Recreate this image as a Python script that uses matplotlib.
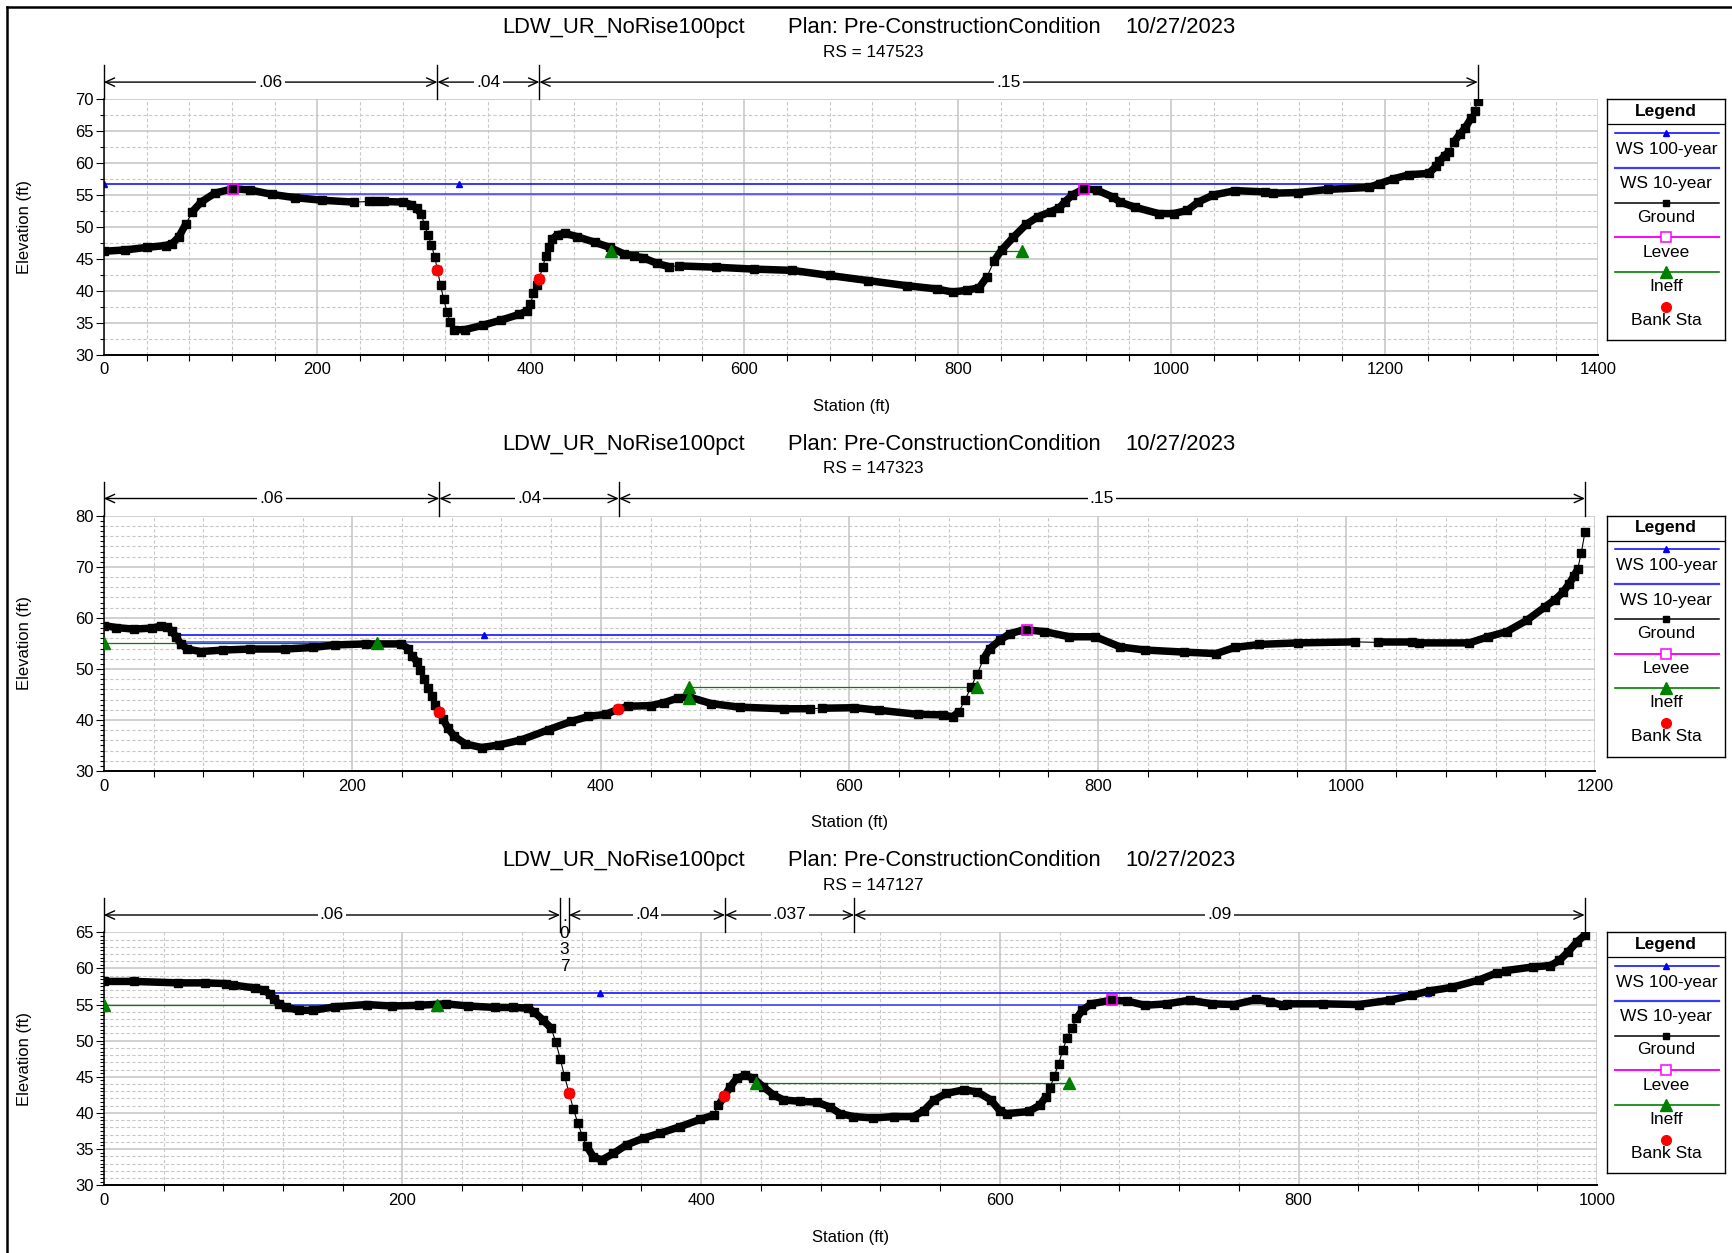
"""
HEC-RAS style cross section plots, three river stations of the
LDW_UR_NoRise100pct plan (Pre-Construction condition)
"""

import numpy as np
import matplotlib
matplotlib.use("Agg")
import matplotlib.pyplot as plt
from matplotlib.ticker import MultipleLocator
from matplotlib.transforms import blended_transform_factory

plt.rcParams['font.family'] = ['Liberation Sans', 'DejaVu Sans']

W, H = 1732, 1253
nan = np.nan

plan_name = "LDW_UR_NoRise100pct"
plan_text = "Plan: Pre-ConstructionCondition"
plan_date = "10/27/2023"
legend_names = ["WS 100-year", "WS 10-year", "Ground", "Levee", "Ineff", "Bank Sta"]

# ---------------- RS 147523 ----------------
rs1 = "RS = 147523"
rs1_ground_st = [0, 20, 40, 58, 64, 70, 77, 83, 91, 104, 121, 137, 158, 179, 204, 234,
                 248.5, 255, 262, 280, 288, 293, 297.5, 300.4, 303.6, 306.8, 310, 312.5,
                 315.4, 318.3, 321.5, 324.4, 328, 338, 355, 372, 389, 396, 399.6, 402.5,
                 405.5, 408, 411, 414, 417, 420, 425, 432, 443, 460, 474, 487, 497, 505,
                 518, 529, 539, 573, 609, 645, 680, 716, 752, 780, 795, 809, 820, 827,
                 834, 841, 852, 864, 875, 887, 895, 900, 907, 918, 930, 945, 952, 966,
                 988, 1002, 1015, 1025, 1039, 1060, 1088, 1095, 1119, 1147, 1185, 1195,
                 1209, 1223, 1241, 1248, 1251, 1256, 1260, 1265, 1270, 1275, 1281, 1284, 1287]
rs1_ground_el = [46.2, 46.4, 46.8, 47.1, 47.4, 48.4, 50.5, 52.4, 53.9, 55.3, 56.0, 55.8,
                 55.1, 54.6, 54.2, 53.9, 54.0, 54.0, 54.0, 53.9, 53.5, 52.9, 52.0, 50.3,
                 48.8, 47.2, 45.3, 43.3, 40.9, 38.7, 36.7, 35.1, 33.9, 33.9, 34.6, 35.4,
                 36.3, 36.8, 37.9, 39.6, 40.9, 41.9, 43.7, 45.4, 46.8, 48.1, 48.8, 49.0,
                 48.5, 47.6, 46.8, 45.8, 45.4, 45.2, 44.3, 43.8, 43.9, 43.7, 43.4, 43.2,
                 42.4, 41.6, 40.8, 40.3, 39.8, 40.1, 40.5, 42.1, 44.7, 46.4, 48.4, 50.4,
                 51.6, 52.4, 53.0, 53.9, 55.0, 56.0, 55.8, 54.7, 53.9, 53.1, 52.1, 52.1,
                 52.6, 53.9, 55.0, 55.7, 55.5, 55.3, 55.4, 55.9, 56.2, 56.8, 57.6, 58.2,
                 58.4, 59.5, 60.3, 61.2, 61.8, 63.4, 64.5, 65.5, 67.1, 68.2, 69.8]
rs1_sparse = [234, 255, 529, 1088]
rs1_ws100_st = [0, 333, 1195]
rs1_ws100_el = [56.7, 56.7, 56.7]
rs1_ws10_st = [160, 905]
rs1_ws10_el = [55.1, 55.1]
rs1_levee_st = [121, 918]
rs1_levee_el = [55.9, 56.0]
rs1_ineff_st = [475, 860]
rs1_ineff_el = [46.2, 46.2]
rs1_bank_st = [312.5, 408]
rs1_bank_el = [43.3, 41.9]
rs1_n_st = [0, 312.5, 408, 1287]
rs1_n_val = [".06", ".04", ".15"]

# ---------------- RS 147323 ----------------
rs2 = "RS = 147323"
rs2_ground_st = [0, 10, 24, 39, 46, 51, 55, 58, 62, 67, 78, 96, 118, 146, 168, 186, 211,
                 239, 245, 248, 252, 254.5, 257.3, 261, 264, 266.5, 270, 273, 277, 282,
                 291, 304, 318, 336, 358, 376, 390, 404, 414, 422, 440, 451, 462, 471,
                 489, 512, 547, 568, 578, 604, 624, 655, 675, 683, 688, 693, 698, 703,
                 708, 713, 721, 729, 741, 757, 777, 798, 818, 838, 869, 895, 910, 930,
                 961, 1007, 1025, 1053, 1058, 1099, 1114, 1129, 1145, 1160, 1168, 1174,
                 1179, 1183, 1186, 1189, 1192]
rs2_ground_el = [58.5, 58.1, 57.8, 58.0, 58.4, 58.2, 57.4, 56.3, 54.9, 53.9, 53.4, 53.7,
                 53.9, 53.9, 54.2, 54.7, 54.9, 54.9, 54.0, 52.6, 51.4, 49.7, 48.1, 46.3,
                 44.7, 43.0, 41.5, 40.1, 38.4, 36.8, 35.3, 34.6, 35.1, 36.1, 38.1, 39.7,
                 40.7, 41.1, 42.1, 42.7, 42.8, 43.4, 44.3, 44.5, 43.2, 42.5, 42.2, 42.2,
                 42.3, 42.4, 41.9, 41.1, 41.0, 40.6, 41.6, 43.9, 46.5, 49.1, 52.0, 54.0,
                 55.6, 56.9, 57.7, 57.3, 56.3, 56.3, 54.3, 53.7, 53.3, 53.0, 54.2, 54.8,
                 55.1, 55.3, 55.2, 55.2, 55.1, 55.1, 56.3, 57.3, 59.5, 62.2, 63.6, 65.0,
                 66.6, 68.2, 69.5, 72.8, 76.9]
rs2_sparse = [568, 1007, 1053]
rs2_ws100_st = [57, 306, 726]
rs2_ws100_el = [56.6, 56.6, 56.6]
rs2_ws10_st = [61, 718]
rs2_ws10_el = [55.2, 55.2]
rs2_levee_st = [743]
rs2_levee_el = [57.7]
rs2_ineff_st = [0, 220, nan, 471, 471, 703]
rs2_ineff_el = [55.1, 55.1, nan, 44.4, 46.5, 46.5]
rs2_bank_st = [270, 414]
rs2_bank_el = [41.5, 42.1]
rs2_n_st = [0, 270, 414.5, 1192]
rs2_n_val = [".06", ".04", ".15"]

# ---------------- RS 147127 ----------------
rs3 = "RS = 147127"
rs3_ground_st = [0, 20, 50, 68, 82, 86.5, 101, 107, 111, 114, 117, 122, 131, 140, 155,
                 176, 193, 211, 229, 244, 262, 274, 284, 288, 294.4, 299.6, 302.7, 305.6,
                 308.5, 311.5, 314.5, 317.4, 320.5, 323.4, 327.9, 333.5, 341.3, 350.2,
                 361.4, 372.5, 385.9, 399.3, 408.3, 411.6, 415.6, 419.4, 423.9, 429.5,
                 435, 441.7, 448.4, 455.1, 466.3, 477.5, 486.4, 493.1, 502, 515.4, 528.8,
                 542.2, 549, 556, 564, 576, 585, 594, 600, 604.5, 619.4, 626.9, 630.7,
                 633.7, 636.4, 639.4, 642.1, 645.1, 648.4, 651.3, 655.2, 661.2, 674.6,
                 685, 697, 712, 727, 742, 757, 771.6, 780.6, 789.6, 792.5, 816.4, 840.3,
                 861.2, 876.1, 888.1, 903, 920.9, 932.8, 938.8, 956.7, 968.7, 974.6,
                 980.6, 986.6, 991.6]
rs3_ground_el = [58.2, 58.2, 58.0, 58.0, 57.9, 57.7, 57.3, 57.0, 56.5, 55.8, 55.1, 54.6,
                 54.2, 54.2, 54.7, 55.0, 54.8, 54.9, 55.1, 54.8, 54.6, 54.6, 54.5, 54.0,
                 52.8, 51.7, 49.8, 47.5, 45.1, 42.8, 40.5, 38.6, 36.8, 35.4, 33.9, 33.5,
                 34.4, 35.6, 36.5, 37.2, 38.1, 39.1, 39.7, 41.1, 42.3, 43.6, 44.8, 45.2,
                 44.8, 43.6, 42.5, 41.8, 41.6, 41.5, 40.8, 39.9, 39.5, 39.3, 39.5, 39.5,
                 40.3, 41.8, 42.7, 43.2, 42.9, 41.8, 40.3, 39.9, 40.2, 41.1, 42.2, 43.5,
                 45.1, 46.8, 48.7, 50.4, 51.8, 53.1, 54.2, 55.1, 55.6, 55.5, 54.9, 55.1,
                 55.6, 55.1, 55.0, 55.7, 55.4, 54.9, 55.1, 55.1, 55.0, 55.6, 56.3, 56.9,
                 57.4, 58.4, 59.4, 59.7, 60.2, 60.4, 61.1, 62.3, 63.7, 64.6]
rs3_sparse = [82, 789.6, 932.8]
rs3_ws100_st = [111, 332, 887]
rs3_ws100_el = [56.55, 56.55, 56.55]
rs3_ws10_st = [116, 661]
rs3_ws10_el = [55.0, 55.0]
rs3_levee_st = [675]
rs3_levee_el = [55.6]
rs3_ineff_st = [0, 223, nan, 437, 646]
rs3_ineff_el = [55.0, 55.0, nan, 44.1, 44.1]
rs3_bank_st = [311.5, 415.6]
rs3_bank_el = [42.8, 42.3]
rs3_n_st = [0, 305.5, 311.5, 416, 502.4, 991.6]
rs3_n_val = [".06", ".037", ".04", ".037", ".09"]

C_WS100 = '#0000ff'
C_WS10 = '#3c3cff'
C_LEVEE = '#ff00ff'
C_INEFF = '#008000'
C_BANK = '#ff0000'
C_MAJOR = '#c4c4c4'
C_MINOR = '#c8c8c8'


def fig_rect(left, top, right, bottom):
    return [left / W, 1 - bottom / H, (right - left) / W, (bottom - top) / H]


def draw_ground(ax, st, el, sparse):
    st = np.asarray(st, float)
    el = np.asarray(el, float)
    pts = ax.transData.transform(np.column_stack([st, el]))
    d = np.diff(pts, axis=0)
    thin = (np.abs(d[:, 1]) > 1.8 * np.abs(d[:, 0])) | np.isin(st[:-1], sparse)
    ax.plot(st, el, color='black', lw=0.8, zorder=3)
    run = []
    for i in range(len(thin)):
        if not thin[i]:
            if not run:
                run = [i]
            run.append(i + 1)
        else:
            if run:
                ax.plot(st[run], el[run], color='black', lw=5.4, zorder=3,
                        solid_capstyle='butt', solid_joinstyle='round')
            run = []
    if run:
        ax.plot(st[run], el[run], color='black', lw=5.4, zorder=3,
                solid_capstyle='butt', solid_joinstyle='round')
    ax.plot(st, el, 's', color='black', ms=5.3, zorder=3.1)


def draw_n_values(ax, n_st, n_val, ax_h, px_ft):
    tr = blended_transform_factory(ax.transData, ax.transAxes)
    y_top = 1 + 34 / ax_h
    y_arr = 1 + 17.3 / ax_h
    for s in n_st:
        ax.plot([s, s], [1, y_top], color='black', lw=1.0, transform=tr, clip_on=False)
    for a, b, lab in zip(n_st[:-1], n_st[1:], n_val):
        if (b - a) * px_ft < 20:
            # too narrow: the value is written downwards
            for k, ch in enumerate(lab):
                ax.text((a + b) / 2, y_arr - (1.5 + 16.6 * k) / ax_h, ch, transform=tr,
                        ha='center', va='center', fontsize=12.5, clip_on=False, zorder=6)
            continue
        ax.annotate('', xy=(b, y_arr), xytext=(a, y_arr), xycoords=tr, textcoords=tr,
                    arrowprops=dict(arrowstyle='<->,head_length=0.55,head_width=0.25',
                                    lw=1.0, color='black', shrinkA=0, shrinkB=0,
                                    mutation_scale=12),
                    annotation_clip=False)
        ax.text((a + b) / 2, y_arr, lab, transform=tr, ha='center', va='center',
                fontsize=12.5, clip_on=False,
                bbox=dict(fc='white', ec='none', pad=1.5))


def draw_legend(fig, left, top):
    w, h = 118.2, 240.8
    lg = fig.add_axes(fig_rect(left, top, left + w, top + h))
    lg.set_xlim(0, w)
    lg.set_ylim(h, 0)
    lg.set_xticks([])
    lg.set_yticks([])
    for s in lg.spines.values():
        s.set_linewidth(1.0)
    lg.text(w / 2, 12, 'Legend', ha='center', va='center', fontsize=12.5, fontweight='bold')
    lg.plot([0, w], [25, 25], color='black', lw=0.9)
    line_y = [33.6, 68.6, 103.7, 137.8, 172.3, 207.3]
    text_y = [50.0, 84.3, 117.7, 152.7, 187.0, 221.0]
    xs = [7.7, w / 2, 111.6]
    lg.plot(xs, [line_y[0]] * 3, color=C_WS100, lw=1.1, marker='^', markevery=[1], ms=5)
    lg.plot(xs, [line_y[1]] * 3, color=C_WS10, lw=1.6)
    lg.plot(xs, [line_y[2]] * 3, color='black', lw=1.1, marker='s', markevery=[1], ms=5)
    lg.plot(xs, [line_y[3]] * 3, color=C_LEVEE, lw=1.4, marker='s', markevery=[1], ms=7.5,
            mfc='white', mec=C_LEVEE, mew=1.1)
    lg.plot(xs, [line_y[4]] * 3, color=C_INEFF, lw=1.2, marker='^', markevery=[1], ms=9)
    lg.plot([w / 2], [line_y[5]], 'o', color=C_BANK, ms=7)
    for ty, name in zip(text_y, legend_names):
        lg.text(w / 2, ty, name, ha='center', va='center', fontsize=12.5)


def draw_section(fig, box, rs, xmax, ylim, ymaj, ygrid, ytick,
                 g_st, g_el, sparse, ws100_st, ws100_el, ws10_st, ws10_el,
                 lev_st, lev_el, ine_st, ine_el, bank_st, bank_el, n_st, n_val):
    left, top, right, bottom = box
    ax_h = bottom - top
    ax = fig.add_axes(fig_rect(left, top, right, bottom))
    ax.set_xlim(0, xmax)
    ax.set_ylim(*ylim)
    ax.xaxis.set_major_locator(MultipleLocator(200))
    ax.xaxis.set_minor_locator(MultipleLocator(40))
    ax.yaxis.set_major_locator(MultipleLocator(ymaj))
    ax.yaxis.set_minor_locator(MultipleLocator(ytick))
    ax.set_axisbelow(True)
    ax.grid(True, which='major', color=C_MAJOR, lw=1.1, ls='-', zorder=0)
    for x in np.arange(40, xmax, 40):
        if x % 200:
            ax.axvline(x, color=C_MINOR, lw=0.8, ls=(0, (3, 2)), zorder=0.5)
    for y in np.arange(ylim[0] + ygrid, ylim[1], ygrid):
        if abs(y / ymaj - round(y / ymaj)) > 1e-6:
            ax.axhline(y, color=C_MINOR, lw=0.8, ls=(0, (3, 2)), zorder=0.5)
    ax.spines['top'].set_visible(False)
    ax.spines['right'].set_visible(False)
    ax.spines['left'].set_linewidth(1.1)
    ax.spines['bottom'].set_linewidth(1.4)
    ax.tick_params(axis='x', which='major', length=0, pad=5.5, labelsize=12)
    ax.tick_params(axis='x', which='minor', length=4.3, width=0.8)
    ax.tick_params(axis='y', which='major', length=5.5, width=0.8, pad=1.8, labelsize=12)
    ax.tick_params(axis='y', which='minor', length=2.8, width=0.8)

    ax.plot(ws10_st, ws10_el, color=C_WS10, lw=1.1, zorder=2)
    ax.plot(ws100_st, ws100_el, color=C_WS100, lw=1.1, marker='^', ms=4.5, zorder=2.1)
    ax.plot(ine_st, ine_el, color=C_INEFF, lw=0.9, zorder=2.2)
    draw_ground(ax, g_st, g_el, sparse)
    ax.plot(ine_st, ine_el, '^', color=C_INEFF, ms=9, zorder=4)
    ax.plot(lev_st, lev_el, 's', mfc='none', mec=C_LEVEE, mew=1.2, ms=7.5, zorder=5)
    ax.plot(bank_st, bank_el, 'o', color=C_BANK, ms=7.5, zorder=5)

    draw_n_values(ax, n_st, n_val, ax_h, (right - left) / xmax)

    fig.text(502.6 / W, 1 - (top - 66.1) / H, plan_name, fontsize=15.8, ha='left', va='baseline')
    fig.text(787.6 / W, 1 - (top - 66.1) / H, plan_text, fontsize=15.8, ha='left', va='baseline')
    fig.text(1125.6 / W, 1 - (top - 66.1) / H, plan_date, fontsize=15.8, ha='left', va='baseline')
    fig.text(872.8 / W, 1 - (top - 42.5) / H, rs, fontsize=12.3, ha='center', va='baseline')
    fig.text((left + right) / 2 / W, 1 - (bottom + 52) / H, 'Station (ft)', fontsize=12,
             ha='center', va='center')
    fig.text(24.3 / W, 1 - (top + bottom) / 2 / H, 'Elevation (ft)', fontsize=12,
             ha='center', va='center', rotation=90)
    draw_legend(fig, 1607.2, top)
    return ax


def main():
    fig = plt.figure(figsize=(W / 100, H / 100), dpi=100)
    fig.patch.set_facecolor('white')

    draw_section(fig, (103.8, 99.4, 1598.4, 354.6), rs1, 1400, (30, 70), 5, 2.5, 2.5,
                 rs1_ground_st, rs1_ground_el, rs1_sparse, rs1_ws100_st, rs1_ws100_el,
                 rs1_ws10_st, rs1_ws10_el, rs1_levee_st, rs1_levee_el,
                 rs1_ineff_st, rs1_ineff_el, rs1_bank_st, rs1_bank_el, rs1_n_st, rs1_n_val)
    draw_section(fig, (103.8, 515.8, 1595.0, 771.0), rs2, 1200, (30, 80), 10, 2, 1,
                 rs2_ground_st, rs2_ground_el, rs2_sparse, rs2_ws100_st, rs2_ws100_el,
                 rs2_ws10_st, rs2_ws10_el, rs2_levee_st, rs2_levee_el,
                 rs2_ineff_st, rs2_ineff_el, rs2_bank_st, rs2_bank_el, rs2_n_st, rs2_n_val)
    draw_section(fig, (103.8, 932.3, 1597.2, 1185.2), rs3, 1000, (30, 65), 5, 1, 0.5,
                 rs3_ground_st, rs3_ground_el, rs3_sparse, rs3_ws100_st, rs3_ws100_el,
                 rs3_ws10_st, rs3_ws10_el, rs3_levee_st, rs3_levee_el,
                 rs3_ineff_st, rs3_ineff_el, rs3_bank_st, rs3_bank_el, rs3_n_st, rs3_n_val)

    # outer frame, only left and top edges are inside the picture
    fig.add_artist(plt.Line2D([7.2 / W, 7.2 / W], [0, 1 - 6.5 / H], color='black', lw=1.8))
    fig.add_artist(plt.Line2D([7.2 / W, 1], [1 - 6.5 / H, 1 - 6.5 / H], color='black', lw=1.8))

    fig.savefig('out.png', dpi=100)
    plt.close(fig)


if __name__ == '__main__':
    main()
